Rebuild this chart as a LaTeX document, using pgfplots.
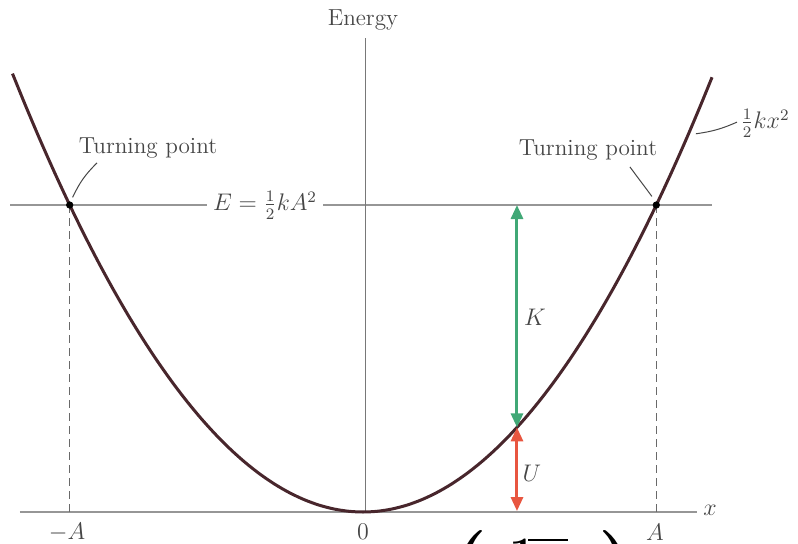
\documentclass[border=0pt]{standalone}
\usepackage{pgfplots}
\pgfplotsset{compat=1.18}
\usetikzlibrary{arrows.meta}

\definecolor{curve}{RGB}{72,38,44}
\definecolor{guide}{RGB}{150,150,150}
\definecolor{kinetic}{RGB}{64,168,118}
\definecolor{potential}{RGB}{232,86,64}
\definecolor{txt}{RGB}{70,70,70}

\begin{document}
\begin{tikzpicture}[font=\fontsize{11.6}{14}\selectfont]
\begin{axis}[
  hide axis, scale only axis, clip=false,
  width=399pt, height=272pt,
  xmin=-1.2376, xmax=1.4831,
  ymin=-0.1042, ymax=1.6678,
]
\coordinate (sw) at (rel axis cs:0,0);
\coordinate (ne) at (rel axis cs:1,1);

% energy level E = (1/2) k A^2 (in units of E, with A = 1)
\addplot[guide, line width=1pt] coordinates {(-1.2035,1) (1.190,1)};
% x axis and energy axis
\addplot[guide, line width=1pt] coordinates {(-1.1695,0) (1.1388,0)};
\addplot[guide!80!black, line width=0.6pt] coordinates {(0.008,0) (0.008,1.544)};
% amplitude markers
\addplot[guide!70!black, line width=0.6pt, dash pattern=on 4pt off 2.5pt] coordinates {(-1,1) (-1,0)};
\addplot[guide!70!black, line width=0.6pt, dash pattern=on 4pt off 2.5pt] coordinates {(1,1) (1,0)};

% potential energy U = (1/2) k x^2
\addplot[curve, line width=1.5pt, smooth] coordinates {
(-1.195,1.428) (-1.15,1.3225) (-1.1,1.21) (-1.05,1.1025) (-1,1)
(-0.95,0.9025) (-0.9,0.81) (-0.85,0.7225) (-0.8,0.64) (-0.75,0.5625)
(-0.7,0.49) (-0.65,0.4225) (-0.6,0.36) (-0.55,0.3025) (-0.5,0.25)
(-0.45,0.2025) (-0.4,0.16) (-0.35,0.1225) (-0.3,0.09) (-0.25,0.0625)
(-0.2,0.04) (-0.15,0.0225) (-0.1,0.01) (-0.05,0.0025) (0,0)
(0.05,0.0025) (0.1,0.01) (0.15,0.0225) (0.2,0.04) (0.25,0.0625)
(0.3,0.09) (0.35,0.1225) (0.4,0.16) (0.45,0.2025) (0.5,0.25)
(0.55,0.3025) (0.6,0.36) (0.65,0.4225) (0.7,0.49) (0.75,0.5625)
(0.8,0.64) (0.85,0.7225) (0.9,0.81) (0.95,0.9025) (1,1)
(1.05,1.1025) (1.1,1.21) (1.15,1.3225) (1.19,1.4161)
};

% turning points
\addplot[only marks, mark=*, mark size=1.6pt, black] coordinates {(-1,1) (1,1)};

% kinetic and potential energy at x = 0.525
\addplot[kinetic, line width=1.5pt,
  {Triangle[length=7pt,width=6pt]}-{Triangle[length=7pt,width=6pt]}]
  coordinates {(0.525,1) (0.525,0.2756)};
\addplot[potential, line width=1.5pt,
  {Triangle[length=7pt,width=6pt]}-{Triangle[length=7pt,width=6pt]}]
  coordinates {(0.525,0.2756) (0.525,0.003)};

% labels
\node[txt, fill=white, inner xsep=3pt, inner ysep=1pt] at (axis cs:-0.334,1) {$E=\frac{1}{2}kA^2$};
\node[txt] at (axis cs:0,1.6026) {Energy};
\node[txt] at (axis cs:-0.733,1.1857) {Turning point};
\node[txt] at (axis cs:0.767,1.179) {Turning point};
\draw[txt, line width=0.5pt] (axis cs:-0.907,1.137) to[bend right=10] (axis cs:-0.99,1.025);
\draw[txt, line width=0.5pt] (axis cs:0.910,1.124) -- (axis cs:0.985,1.028);
\node[txt] at (axis cs:1.3706,1.267) {$\frac{1}{2}kx^2$};
\draw[txt, line width=0.5pt] (axis cs:1.135,1.232) to[bend right=8] (axis cs:1.275,1.270);
\node[txt] at (axis cs:0.586,0.635) {$K$};
\node[txt] at (axis cs:0.576,0.127) {$U$};
\node[txt] at (axis cs:1.183,0.005) {$x$};
\node[txt] at (axis cs:-1.009,-0.065) {$-A$};
\node[txt] at (axis cs:0,-0.065) {$0$};
\node[txt] at (axis cs:0.9956,-0.065) {$A$};

% top of the formula that follows below
\node[anchor=north, inner sep=0pt, font=\fontsize{40}{40}\selectfont\bfseries] at (axis cs:0.365,-0.0586) {(};
\node[anchor=north, inner sep=0pt, font=\fontsize{40}{40}\selectfont\bfseries] at (axis cs:0.8626,-0.0586) {)};
\node[anchor=north, inner sep=0pt, font=\fontsize{24}{24}\selectfont\bfseries] at (axis cs:0.547,-0.0880) {1};
\draw[black, line width=1.4pt] (axis cs:0.5626,-0.0912) -- (axis cs:0.699,-0.0912);
\end{axis}
\pgfresetboundingbox
\path[use as bounding box] (sw) rectangle (ne);
\end{tikzpicture}
\end{document}
